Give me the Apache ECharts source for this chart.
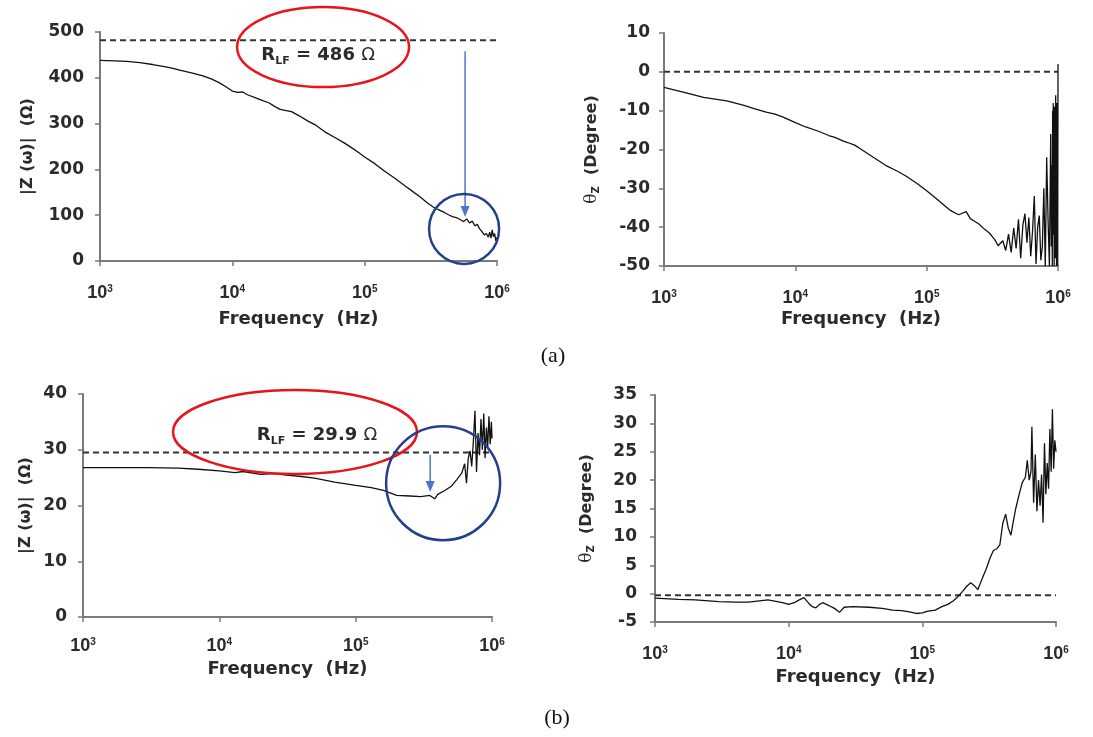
<!DOCTYPE html>
<html><head><meta charset="utf-8">
<script src="https://cdn.jsdelivr.net/npm/echarts@6/dist/echarts.min.js"></script>
<style>html,body{margin:0;padding:0;background:#fff}#c{width:1093px;height:737px}</style>
</head><body><div id="c"></div>
<script>
// ---------- data ----------
const FMIN = 1000, FMAX = 1000000;
const freqA1 = [1000,1300,1600,2000,2500,3000,3500,4000,5000,6000,7000,8000,9000,10000,11000,12000,13000,15000,17000,19000,21000,23000,25000,28000,32000,37000,43000,50000,60000,70000,80000,90000,100000,120000,140000,170000,200000,230000,260000,300000,330000,360000,400000,430000,460000,500000,530000,560000,590000,620000,650000,680000,710000,740000,770000,800000,830000,860000,880000,900000,920000,940000,960000,980000,1000000];
const zA1 = [438,437,436,433,429,425,421,417,410,404,397,389,380,371,368,369,363,356,350,345,337,331,329,326,317,306,296,282,269,258,247,237,227,212,197,180,165,152,141,126,118,112,106,101,97,94,90,86,92,83,87,77,80,70,64,57,60,52,63,50,68,53,60,44,52];
const rlfLineA = 482;

const freqA2 = [1000,1500,2000,3000,4000,5000,6000,7000,8000,10000,12000,15000,18000,20000,23000,25000,28000,30000,40000,50000,60000,70000,85000,100000,120000,150000,175000,200000,215000,230000,250000,275000,300000,330000,350000,380000,400000,420000,440000,460000,480000,500000,520000,540000,560000,580000,600000,620000,640000,660000,680000,700000,720000,740000,760000,780000,800000,820000,840000,860000,880000,890000,900000,905000,910000,915000,920000,925000,930000,935000,940000,945000,950000,955000,960000,965000,970000,975000,980000,985000,990000,995000,1000000];
const phA2 = [-4.0,-5.5,-6.6,-7.5,-8.6,-9.6,-10.4,-10.9,-11.6,-13.1,-14.2,-15.3,-16.4,-16.9,-17.8,-18.2,-18.8,-19.4,-22.2,-24.3,-25.6,-26.9,-28.8,-30.6,-32.8,-35.6,-36.8,-36.0,-37.8,-38.4,-39.2,-40.5,-41.5,-43.2,-44.8,-43.5,-46.0,-41.8,-46.5,-40.2,-45.5,-38.0,-48.0,-39.5,-36.5,-44.0,-37.5,-47.5,-41.0,-32.0,-49.5,-40.0,-37.0,-48.5,-45.0,-30.0,-50.0,-22.0,-38.0,-50.0,-16.0,-45.0,-24.0,-50.0,-10.0,-42.0,-8.0,-30.0,-14.0,-50.0,-9.0,-35.0,-12.0,-48.0,-6.0,-28.0,-10.0,-50.0,-8.0,-40.0,-12.0,-50.0,2.0];
const zeroLineA = 0;

const freqB1 = [1000,2000,3000,5000,7000,10000,13000,15000,20000,25000,30000,40000,50000,70000,100000,130000,160000,200000,250000,300000,350000,380000,400000,450000,500000,550000,600000,630000,650000,670000,690000,710000,730000,750000,770000,790000,810000,830000,850000,870000,890000,910000,930000,950000,970000,990000,1000000];
const zB1 = [26.8,26.8,26.8,26.7,26.5,26.2,25.9,26.1,25.6,25.7,25.5,25.2,24.9,24.2,23.6,23.2,22.7,21.8,21.7,21.6,21.8,21.2,22.0,22.7,23.4,24.6,25.8,27.5,24.0,28.5,29.8,27.0,31.5,37.0,26.0,33.0,29.0,35.5,30.0,36.5,28.5,34.0,30.5,36.0,31.0,35.0,32.0];
const rlfLineB = 29.5;

const freqB2 = [1000,1500,2000,3000,4000,5000,7000,9000,10000,11000,12000,13000,14000,15000,16000,17000,18000,20000,22000,24000,26000,30000,40000,50000,60000,70000,80000,90000,100000,110000,125000,140000,155000,170000,185000,200000,215000,230000,245000,260000,280000,300000,320000,340000,360000,380000,400000,420000,440000,460000,480000,500000,530000,560000,590000,610000,630000,650000,660000,680000,700000,720000,740000,760000,780000,800000,820000,840000,860000,880000,900000,920000,940000,960000,980000,1000000];
const phB2 = [-0.8,-1.0,-1.1,-1.4,-1.5,-1.5,-1.1,-1.6,-1.9,-1.6,-1.1,-0.7,-1.6,-2.3,-2.5,-1.9,-1.6,-2.1,-2.6,-3.3,-2.4,-2.3,-2.4,-2.6,-2.9,-3.0,-3.2,-3.5,-3.4,-3.1,-2.9,-2.3,-1.9,-1.3,-0.5,0.4,1.3,1.9,1.4,0.7,2.6,4.3,6.2,7.6,7.9,8.6,12.4,14.0,11.5,10.3,12.8,15.0,17.5,19.6,20.5,23.5,20.0,21.5,29.4,16.0,24.5,14.5,20.0,15.5,21.0,12.5,26.5,17.5,23.0,18.5,29.0,21.5,32.5,22.0,27.0,25.0];
const zeroLineB = -0.3;

// annotation anchors (data coordinates)
const annA = {ellipse:[48500, 467], text:[44500, 450], label:'486', arrowFrom:[574000, 458], arrowTo:[574000, 96], circle:[564000, 70]};
const annB = {ellipse:[35900, 33.2], text:[52100, 32.6], label:'29.9', arrowFrom:[352000, 29.1], arrowTo:[352000, 22.4], circle:[438000, 24.0]};

// ---------- chart ----------
const FONT = '"Liberation Sans", Arial, sans-serif';
const WFONT = '"DejaVu Sans", Verdana, sans-serif';
const TXT = '#2b2b2b';
const AX = '#7a7a7a';
const chart = echarts.init(document.getElementById('c'), null, {renderer:'canvas'});

const grids = [
  {left:100, top:32, width:397, height:229},
  {left:664, top:33, width:394, height:233},
  {left:83, top:394, width:409, height:223},
  {left:655, top:395, width:401, height:227}
];

function xAx(gi, margin, gap){
  return {type:'log', logBase:10, min:FMIN, max:FMAX, gridIndex:gi,
    name:'Frequency  (Hz)', nameLocation:'middle', nameGap:gap,
    nameTextStyle:{fontFamily:WFONT, fontWeight:'bold', fontSize:18, color:TXT},
    axisLine:{onZero:false, lineStyle:{color:AX, width:2}},
    axisTick:{length:5, lineStyle:{color:AX, width:1.5}},
    minorTick:{show:false}, splitLine:{show:false},
    axisLabel:{margin:margin, fontFamily:FONT, fontWeight:'bold', fontSize:18, color:TXT,
      formatter: v => '10{s|' + Math.round(Math.log10(v)) + '}',
      rich:{s:{fontFamily:FONT, fontWeight:'bold', fontSize:10, color:TXT, verticalAlign:'top', lineHeight:10}}}
  };
}
function yAx(gi, min, max, interval, name, gap, margin, rich){
  return {type:'value', gridIndex:gi, min:min, max:max, interval:interval,
    name:name, nameLocation:'middle', nameGap:gap, nameRotate:90,
    nameTextStyle:{fontFamily:WFONT, fontWeight:'bold', fontSize:16, color:TXT, rich:rich||{}},
    axisLine:{show:true, lineStyle:{color:AX, width:2}},
    axisTick:{show:true, length:5, lineStyle:{color:AX, width:1.5}},
    splitLine:{show:false},
    axisLabel:{margin:margin, fontFamily:WFONT, fontWeight:'bold', fontSize:17, color:TXT}
  };
}
const thetaRich = {t:{fontFamily:'"DejaVu Serif", serif', fontSize:17, color:TXT, fontWeight:'normal'},
                   s:{fontFamily:WFONT, fontSize:10, fontWeight:'bold', color:TXT, verticalAlign:'bottom', padding:[8,0,0,0]}};

function lineSeries(gi, fr, vals){
  return {type:'line', xAxisIndex:gi, yAxisIndex:gi, showSymbol:false, symbol:'none', clip:true,
    lineStyle:{color:'#111', width:1.3}, data: fr.map((f,i)=>[f, vals[i]]), z:3, silent:true};
}
function dashSeries(gi, v){
  return {type:'line', xAxisIndex:gi, yAxisIndex:gi, showSymbol:false, symbol:'none',
    lineStyle:{color:'#333', width:2, type:[6,4]}, data:[[FMIN, v],[FMAX, v]], z:2, silent:true};
}

chart.setOption({
  animation:false,
  backgroundColor:'#ffffff',
  grid: grids,
  xAxis:[xAx(0,23,49), xAx(1,23,44), xAx(2,20,43), xAx(3,23,46)],
  yAxis:[
    yAx(0,0,500,100,'|Z (ω)|  (Ω)',64,16),
    yAx(1,-50,10,10,'{t|θ}{s|Z}  (Degree)',63,14,thetaRich),
    yAx(2,0,40,10,'|Z (ω)|  (Ω)',49,16),
    yAx(3,-5,35,5,'{t|θ}{s|Z}  (Degree)',59,18,thetaRich)
  ],
  series:[
    dashSeries(0, rlfLineA), lineSeries(0, freqA1, zA1),
    dashSeries(1, zeroLineA), lineSeries(1, freqA2, phA2),
    dashSeries(2, rlfLineB), lineSeries(2, freqB1, zB1),
    dashSeries(3, zeroLineB), lineSeries(3, freqB2, phB2)
  ]
});

function px(gi, p){ return chart.convertToPixel({gridIndex:gi}, p); }
function annotations(gi, a, erx, ery, cr){
  const e = px(gi, a.ellipse), t = px(gi, a.text), af = px(gi, a.arrowFrom), at = px(gi, a.arrowTo), c = px(gi, a.circle);
  const blue = '#4a78c8';
  return [
    {type:'ellipse', shape:{cx:e[0], cy:e[1], rx:erx, ry:ery}, style:{fill:'none', stroke:'#e8131b', lineWidth:2.5}, z:10},
    {type:'text', x:t[0], y:t[1], style:{text:'R{s|LF} = ' + a.label + ' {o|Ω}', align:'center', verticalAlign:'middle',
      font:'bold 18px ' + WFONT, fill:TXT,
      rich:{s:{fontSize:11, fontWeight:'bold', fontFamily:WFONT, fill:TXT, verticalAlign:'bottom', padding:[12,0,0,0]},
            o:{fontSize:18, fontWeight:'normal', fontFamily:WFONT, fill:TXT}}}, z:10},
    {type:'line', shape:{x1:af[0], y1:af[1], x2:at[0], y2:at[1]-9}, style:{stroke:blue, lineWidth:1.5}, z:10},
    {type:'polygon', shape:{points:[[at[0]-4.5, at[1]-11],[at[0]+4.5, at[1]-11],[at[0], at[1]]]}, style:{fill:blue}, z:10},
    {type:'circle', shape:{cx:c[0], cy:c[1], r:cr}, style:{fill:'none', stroke:'#24408a', lineWidth:2.5}, z:10}
  ];
}
const g = [].concat(
  annotations(0, annA, 86, 40, 35),
  annotations(2, annB, 122, 42, 57),
  [
    {type:'text', x:553, y:356, style:{text:'(a)', font:'22px "Liberation Serif", "DejaVu Serif", serif', fill:'#111', align:'center', verticalAlign:'middle'}},
    {type:'text', x:557, y:718, style:{text:'(b)', font:'22px "Liberation Serif", "DejaVu Serif", serif', fill:'#111', align:'center', verticalAlign:'middle'}}
  ]
);
chart.setOption({graphic:{elements:g}});
</script>
</body></html>
